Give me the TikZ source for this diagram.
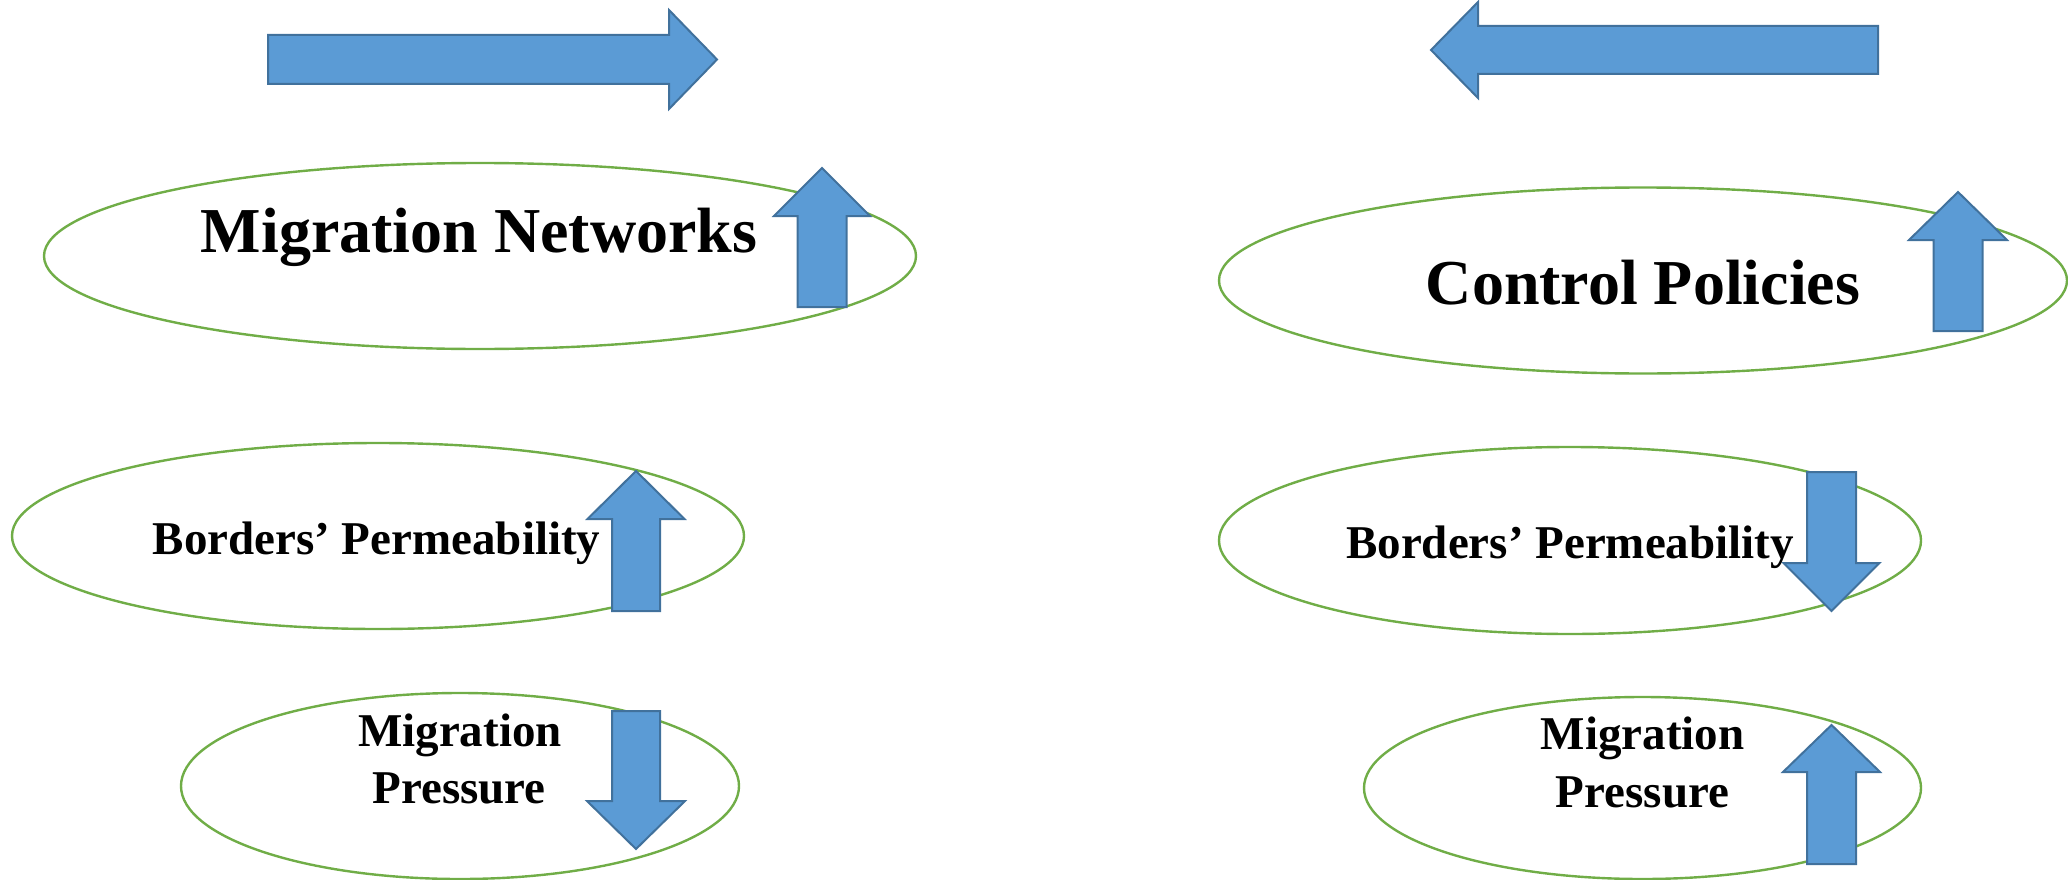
\documentclass[tikz,border=0pt]{standalone}
\usepackage{fontspec}
\setmainfont{Liberation Serif}
\usetikzlibrary{shapes.geometric}
\definecolor{arrfill}{HTML}{5B9BD5}
\definecolor{arrline}{HTML}{41719C}
\definecolor{ellline}{HTML}{70AD47}
\tikzset{
  oval/.style={ellipse, draw=ellline, line width=2.4pt, inner sep=0pt},
  blockarrow/.style={fill=arrfill, draw=arrline, line width=2pt, line join=miter},
  bigtxt/.style={font=\fontsize{64}{72}\selectfont\bfseries, inner sep=0pt, anchor=base},
  smalltxt/.style={font=\fontsize{47}{54}\selectfont\bfseries, inner sep=0pt, anchor=base}
}
\begin{document}
\begin{tikzpicture}[x=1pt, y=-1pt]
\path[use as bounding box] (0,0) rectangle (2068,880);
% ellipses
\node[oval, minimum width=872pt, minimum height=186pt] (mn) at (480,256) {};
\node[oval, minimum width=848pt, minimum height=186pt] (cp) at (1643,280.5) {};
\node[oval, minimum width=732pt, minimum height=186pt] (bpl) at (378,536) {};
\node[oval, minimum width=702pt, minimum height=187pt] (bpr) at (1570,540.5) {};
\node[oval, minimum width=558pt, minimum height=186pt] (mpl) at (460,786) {};
\node[oval, minimum width=557pt, minimum height=182pt] (mpr) at (1642.5,788) {};
% horizontal block arrows
\draw[blockarrow] (268,35) -- (669,35) -- (669,10) -- (717,59.5) -- (669,109) -- (669,84) -- (268,84) -- cycle;
\draw[blockarrow] (1878,26) -- (1478,26) -- (1478,2) -- (1431,50) -- (1478,98) -- (1478,74) -- (1878,74) -- cycle;
% up arrow in Migration Networks
\draw[blockarrow] (822,168) -- (870,216) -- (846.5,216) -- (846.5,307) -- (797.5,307) -- (797.5,216) -- (774,216) -- cycle;
% up arrow in Control Policies
\draw[blockarrow] (1958,192) -- (2007,240) -- (1982.5,240) -- (1982.5,331) -- (1933.5,331) -- (1933.5,240) -- (1909,240) -- cycle;
% up arrow in Borders' Permeability (left)
\draw[blockarrow] (636,471) -- (684.5,519) -- (660,519) -- (660,611) -- (612,611) -- (612,519) -- (587.5,519) -- cycle;
% down arrow in Borders' Permeability (right)
\draw[blockarrow] (1831.5,611) -- (1879.5,563) -- (1856,563) -- (1856,472) -- (1807,472) -- (1807,563) -- (1783.5,563) -- cycle;
% down arrow in Migration Pressure (left)
\draw[blockarrow] (636,849) -- (685,801) -- (660,801) -- (660,711) -- (612,711) -- (612,801) -- (587,801) -- cycle;
% up arrow in Migration Pressure (right)
\draw[blockarrow] (1831.5,725) -- (1880,772) -- (1856,772) -- (1856,864) -- (1807,864) -- (1807,772) -- (1783,772) -- cycle;
% texts
\node[bigtxt] (tmn) at (479,252) {Migration Networks};
\node[bigtxt] (tcp) at (1643,304) {Control Policies};
\node[smalltxt] (tbpl) at (376.5,554) {Borders’ Permeability};
\node[smalltxt] (tbpr) at (1570,558) {Borders’ Permeability};
\node[smalltxt] (tmpl1) at (460,746) {Migration};
\node[smalltxt] (tmpl2) at (459,803) {Pressure};
\node[smalltxt] (tmpr1) at (1642.5,749) {Migration};
\node[smalltxt] (tmpr2) at (1642.5,807) {Pressure};
\end{tikzpicture}
\end{document}
